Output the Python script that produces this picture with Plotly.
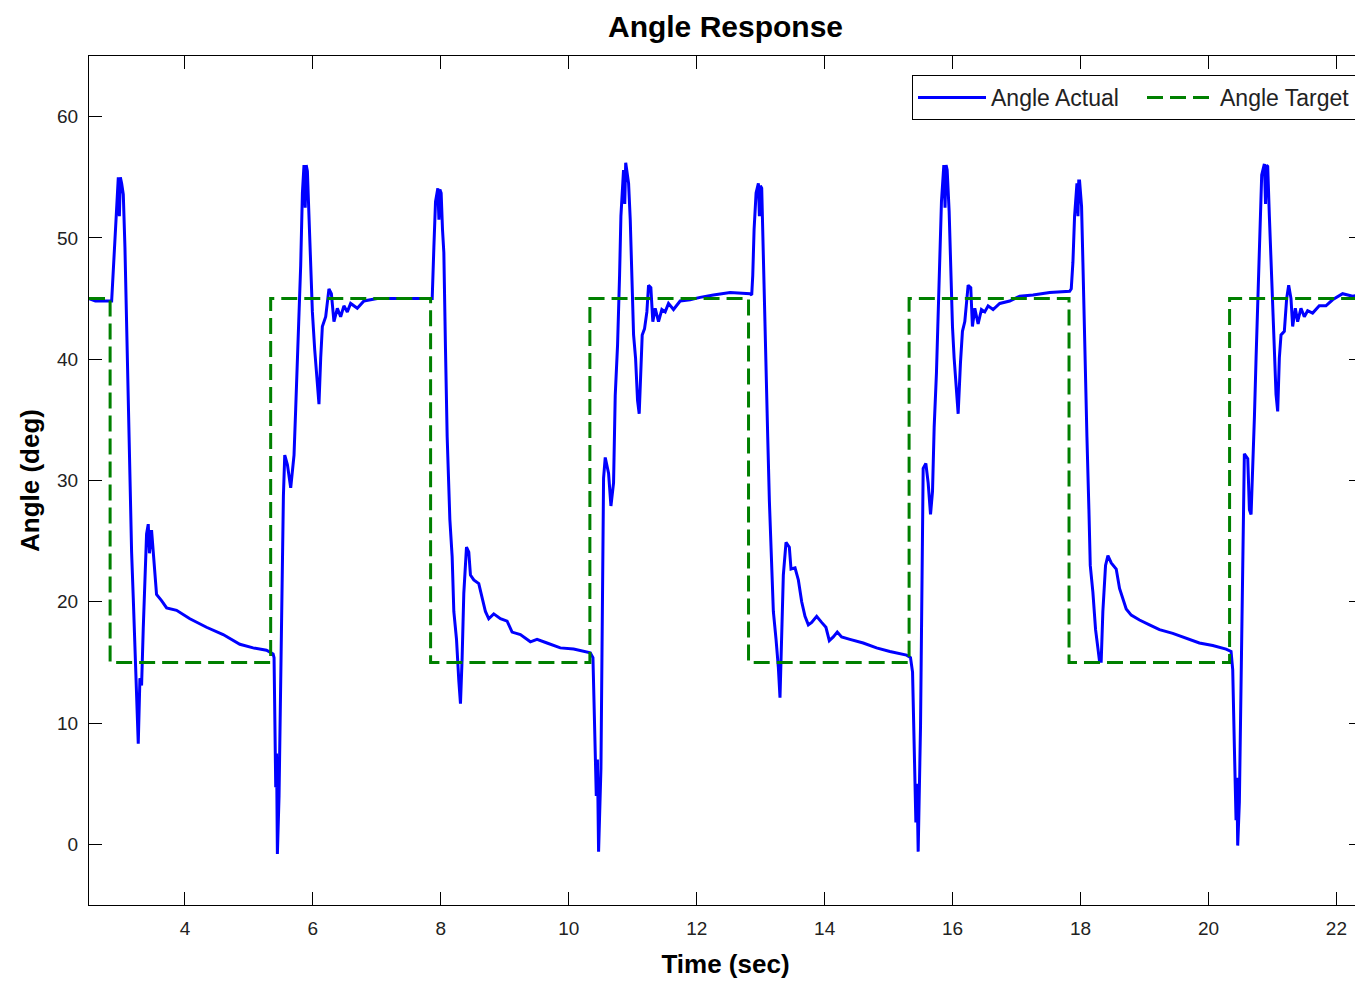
import plotly.graph_objects as go

# ---- data ----
actual_t = [
    2.50, 2.60, 2.854, 2.880, 2.921, 2.958, 2.975, 2.990, 3.010, 3.036, 3.062, 3.088, 3.114,
    3.140, 3.166, 3.192, 3.218, 3.244, 3.270, 3.296, 3.322, 3.348, 3.374, 3.400, 3.426, 3.445,
    3.478, 3.530, 3.556, 3.634, 3.713, 3.869, 4.077, 4.337, 4.597, 4.858, 5.066, 5.274, 5.378,
    5.393, 5.404, 5.419, 5.432, 5.445, 5.471, 5.497, 5.523, 5.539, 5.560, 5.602, 5.653, 5.705,
    5.731, 5.758, 5.783, 5.809, 5.836, 5.861, 5.880, 5.895, 5.914, 5.939, 5.966, 5.992, 6.028,
    6.059, 6.095, 6.122, 6.148, 6.200, 6.251, 6.289, 6.329, 6.382, 6.434, 6.485, 6.538, 6.590,
    6.694, 6.798, 7.007, 7.266, 7.787,
    7.865, 7.891, 7.917, 7.953, 7.970, 7.985, 8.005, 8.026, 8.047, 8.073, 8.099, 8.141, 8.177,
    8.203, 8.245, 8.281, 8.307, 8.333, 8.359, 8.401, 8.437, 8.463, 8.515, 8.593, 8.645, 8.697,
    8.749, 8.827, 8.932, 9.036, 9.114, 9.244, 9.400, 9.504, 9.660, 9.868, 10.076, 10.284, 10.336,
    10.378, 10.399, 10.430, 10.448, 10.466, 10.503, 10.523, 10.544, 10.570, 10.622, 10.659,
    10.700, 10.726, 10.763, 10.794, 10.815, 10.856, 10.875, 10.890, 10.898, 10.935, 10.961,
    10.987, 11.013, 11.044, 11.075, 11.101, 11.127, 11.148, 11.184, 11.221, 11.247, 11.283,
    11.314, 11.351, 11.403, 11.455, 11.507, 11.559, 11.637, 11.741, 11.897, 12.053, 12.261,
    12.522, 12.834,
    12.860, 12.876, 12.897, 12.928, 12.964, 12.980, 12.995, 13.016, 13.032, 13.053, 13.084,
    13.110, 13.136, 13.172, 13.198, 13.240, 13.276, 13.302, 13.328, 13.354, 13.396, 13.448,
    13.474, 13.537, 13.589, 13.641, 13.693, 13.745, 13.797, 13.875, 13.953, 14.020, 14.073,
    14.135, 14.197, 14.265, 14.395, 14.603, 14.811, 15.020, 15.280, 15.342,
    15.374, 15.395, 15.426, 15.444, 15.462, 15.499, 15.519, 15.540, 15.582, 15.618, 15.655,
    15.686, 15.712, 15.748, 15.790, 15.826, 15.863, 15.882, 15.898, 15.915, 15.946, 15.972,
    15.998, 16.024, 16.061, 16.087, 16.123, 16.154, 16.191, 16.217, 16.243, 16.284, 16.310,
    16.347, 16.399, 16.451, 16.503, 16.555, 16.633, 16.737, 16.893, 17.049, 17.257, 17.518,
    17.830,
    17.855, 17.881, 17.907, 17.944, 17.960, 17.972, 17.985, 18.016, 18.037, 18.068, 18.100,
    18.131, 18.152, 18.193, 18.235, 18.271, 18.297, 18.323, 18.349, 18.391, 18.428, 18.480,
    18.558, 18.610, 18.662, 18.714, 18.792, 18.922, 19.078, 19.234, 19.442, 19.650, 19.858,
    20.067, 20.275,
    20.353, 20.379, 20.405, 20.431, 20.444, 20.457, 20.483, 20.509, 20.525, 20.546, 20.561,
    20.614, 20.640, 20.666, 20.692, 20.718, 20.744, 20.770, 20.796, 20.832, 20.874, 20.892,
    20.908, 20.926, 20.952, 20.978, 21.004, 21.030, 21.056, 21.082, 21.108, 21.134, 21.186,
    21.222, 21.254, 21.290, 21.316, 21.358, 21.394, 21.446, 21.498, 21.550, 21.628, 21.732,
    21.836, 21.940, 22.097, 22.253, 22.403,
]
actual_deg = [
    45.0, 44.8, 44.8, 47.6, 52.2, 55.0, 51.8, 55.0, 54.5, 53.6, 49.2, 42.9, 35.7,
    28.8, 24.1, 20.3, 16.2, 13.1, 8.3, 13.7, 13.1, 17.8, 22.5, 25.6, 26.4, 24.0,
    25.9, 22.5, 20.6, 20.1, 19.5, 19.3, 18.6, 17.9, 17.3, 16.5, 16.2, 16.0, 15.7,
    15.4, 11.6, 4.7, 7.5, -0.8, 4.0, 14.2, 19.9, 28.7, 32.1, 31.3, 29.4, 32.1,
    35.9, 39.7, 42.7, 47.7, 53.7, 56.0, 52.5, 56.0, 55.5, 52.2, 48.0, 43.9, 40.8,
    38.9, 36.3, 40.1, 42.7, 43.5, 45.8, 45.4, 43.1, 44.2, 43.5, 44.4, 43.9, 44.6,
    44.2, 44.8, 45.0, 45.0, 45.0,
    45.0, 49.2, 53.0, 54.1, 51.5, 54.0, 53.7, 50.7, 48.8, 40.8, 33.6, 26.8, 23.7,
    19.2, 16.9, 13.5, 11.6, 15.4, 20.7, 24.5, 24.1, 22.2, 21.8, 21.5, 20.3, 19.2,
    18.6, 19.0, 18.6, 18.4, 17.5, 17.3, 16.7, 16.9, 16.6, 16.2, 16.1, 15.9, 15.8,
    15.4, 11.2, 4.0, 7.0, -0.6, 6.3, 17.3, 30.2, 31.9, 30.6, 27.9,
    29.8, 37.0, 41.2, 46.9, 51.8, 55.6, 52.8, 56.2, 55.8, 54.5, 51.5,
    46.9, 42.0, 40.1, 36.6, 35.5, 39.3, 42.0, 42.5, 43.9, 46.1, 45.9,
    43.1, 44.2, 43.1, 44.1, 43.9, 44.6, 44.1, 44.8, 44.9, 45.1, 45.3,
    45.5, 45.4,
    45.3, 46.9, 50.7, 53.7, 54.5, 51.8, 54.3, 54.1, 50.3, 45.0, 40.1,
    33.6, 28.3, 22.2, 19.2, 16.9, 14.6, 12.1, 17.3, 22.2, 24.9, 24.5,
    22.7, 22.8, 21.8, 20.0, 18.8, 18.1, 18.3, 18.8, 18.3, 17.9, 16.8,
    17.1, 17.5, 17.1, 16.9, 16.6, 16.2, 15.9, 15.6, 15.4,
    14.2, 8.6, 1.8, 5.0, -0.6, 9.8, 20.8, 31.0, 31.4, 29.8, 27.2,
    29.1, 34.4, 38.9, 46.5, 53.0, 56.0, 52.5, 56.0, 55.6, 52.2, 47.3,
    42.7, 40.1, 37.0, 35.5, 39.7, 42.3, 43.1, 44.6, 46.1, 45.9, 42.7,
    44.2, 42.9, 44.1, 43.9, 44.4, 44.1, 44.6, 44.8, 45.2, 45.3, 45.5,
    45.6,
    45.8, 48.0, 51.8, 54.5, 51.8, 54.7, 54.7, 52.6, 48.0, 40.1, 33.6,
    27.6, 23.0, 20.8, 17.7, 16.2, 15.1, 15.1, 19.2, 23.0, 23.8, 23.2,
    22.7, 21.1, 20.2, 19.4, 18.9, 18.5, 18.1, 17.7, 17.4, 17.0, 16.6,
    16.4, 16.1,
    15.9, 14.4, 8.0, 2.0, 5.5, -0.1, 3.5, 12.5, 19.3, 28.8, 32.2,
    31.8, 27.6, 27.2, 30.6, 35.2, 40.1, 44.6, 50.3, 55.2, 56.1, 52.8,
    56.0, 55.9, 51.8, 47.6, 44.6, 40.8, 37.1, 35.7, 40.1, 42.0, 42.3,
    45.0, 46.1, 45.0, 42.7, 44.2, 43.1, 44.2, 43.5, 44.0, 43.8, 44.4,
    44.4, 44.9, 45.4, 45.2, 45.3,
]

target_t = [2.50, 2.83, 2.83, 5.34, 5.34, 7.84, 7.84, 10.33, 10.33, 12.81, 12.81,
            15.32, 15.32, 17.82, 17.82, 20.33, 20.33, 22.40]
target_deg = [45, 45, 15, 15, 45, 45, 15, 15, 45, 45, 15, 15, 45, 45, 15, 15, 45, 45]

x_ticks = [4, 6, 8, 10, 12, 14, 16, 18, 20, 22]
y_ticks = [0, 10, 20, 30, 40, 50, 60]

FONT = "Liberation Sans"

fig = go.Figure()
fig.add_trace(go.Scatter(
    x=actual_t, y=actual_deg, mode="lines", name="Angle Actual",
    line=dict(color="#0000FF", width=3), legendwidth=146,
))
fig.add_trace(go.Scatter(
    x=target_t, y=target_deg, mode="lines", name="Angle Target",
    line=dict(color="#008000", width=3, dash="16px,7px"),
))

axis_common = dict(
    showline=True, linecolor="black", linewidth=1, mirror="ticks",
    ticks="inside", ticklen=13, tickcolor="black", tickwidth=1,
    showgrid=False, zeroline=False,
    tickfont=dict(family=FONT, size=19, color="#222222"),
)

fig.update_xaxes(
    range=[2.5, 22.4], tickvals=x_ticks, ticklabelstandoff=6,
    title=dict(text="<b>Time (sec)</b>", font=dict(family=FONT, size=26, color="black"), standoff=17),
    **axis_common,
)
fig.update_yaxes(
    range=[-5, 65], tickvals=y_ticks, ticklabelstandoff=6,
    title=dict(text="<b>Angle (deg)</b>", font=dict(family=FONT, size=26, color="black"), standoff=9),
    **axis_common,
)

# page body has an 8px margin, so the figure is 16px smaller and margins are shifted
fig.update_layout(
    width=1355, height=975,
    margin=dict(l=81, r=1, t=48, b=78),
    plot_bgcolor="white", paper_bgcolor="white",
    title=dict(text="<b>Angle Response</b>", x=0.5, xref="paper", xanchor="center",
               y=1.0, yref="container", yanchor="top", pad=dict(t=8),
               font=dict(family=FONT, size=30, color="black")),
    legend=dict(orientation="h", x=(912 - 89) / 1273, xanchor="left",
                y=(905 - 75) / 849, yanchor="top",
                bgcolor="white", bordercolor="black", borderwidth=1,
                font=dict(family=FONT, size=23, color="#222222"),
                itemwidth=68),
    showlegend=True,
)

fig.write_html("out.html")
